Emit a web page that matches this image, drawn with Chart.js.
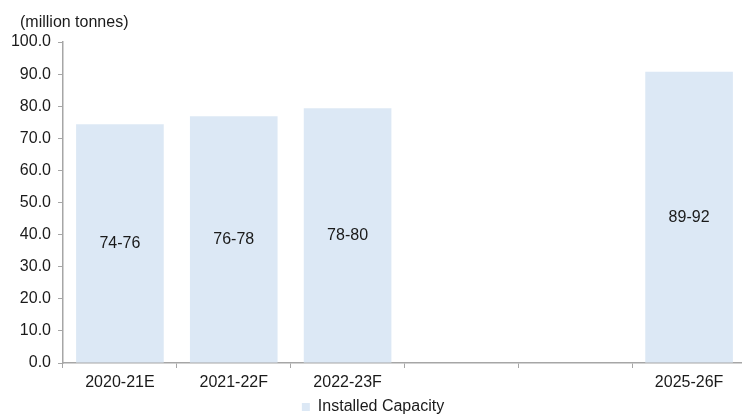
<!DOCTYPE html>
<html>
<head>
<meta charset="utf-8">
<script src="https://cdn.jsdelivr.net/npm/chart.js@4/dist/chart.umd.min.js"></script>
<style>
  html, body { margin: 0; padding: 0; background: #fff; overflow: hidden; }
  #wrap { width: 746px; height: 415px; }
</style>
</head>
<body>
<div id="wrap"><canvas id="chart" width="746" height="415"></canvas></div>
<script>
// Datos del gráfico
var categories = ['2020-21E', '2021-22F', '2022-23F', '', '', '2025-26F'];
var capacity = [74.4, 76.9, 79.4, null, null, 90.7];
var rangeLabels = ['74-76', '76-78', '78-80', '', '', '89-92'];
var unitLabel = '(million tonnes)';

var textColor = '#1a1a1a';
var axisColor = '#a6a6a6';
var fontFamily = 'Arial, "Liberation Sans", sans-serif';

// Etiquetas dentro de las barras + título de unidades
var barLabels = {
    id: 'barLabels',
    afterDatasetsDraw: function(chart) {
        var ctx = chart.ctx;
        var meta = chart.getDatasetMeta(0);
        ctx.save();
        ctx.font = '16px ' + fontFamily;
        ctx.fillStyle = textColor;
        ctx.textAlign = 'center';
        ctx.textBaseline = 'middle';
        meta.data.forEach(function(bar, i) {
            if (capacity[i] == null) return;
            var c = bar.getCenterPoint();
            ctx.fillText(rangeLabels[i], c.x, c.y);
        });
        ctx.textAlign = 'left';
        ctx.fillText(unitLabel, 20, 23);
        ctx.restore();
    }
};

var ctx = document.getElementById('chart').getContext('2d');
new Chart(ctx, {
    type: 'bar',
    data: {
        labels: categories,
        datasets: [{
            label: 'Installed Capacity',
            data: capacity,
            backgroundColor: '#dce8f5',
            borderWidth: 0,
            categoryPercentage: 0.77,
            barPercentage: 1.0
        }]
    },
    options: {
        responsive: false,
        animation: false,
        layout: { padding: { top: 42, left: 0, right: 0, bottom: 0 } },
        scales: {
            x: {
                grid: {
                    drawOnChartArea: false,
                    offset: true,
                    color: axisColor,
                    tickLength: 5
                },
                border: { color: axisColor, width: 1.5 },
                ticks: {
                    color: textColor,
                    font: { family: fontFamily, size: 16 },
                    padding: 5,
                    maxRotation: 0,
                    autoSkip: false
                },
                afterFit: function(scale) { scale.height = 36; }
            },
            y: {
                min: 0,
                max: 100,
                grid: {
                    drawOnChartArea: false,
                    color: axisColor,
                    tickLength: 5
                },
                border: { color: axisColor, width: 1.5 },
                ticks: {
                    stepSize: 10,
                    color: textColor,
                    font: { family: fontFamily, size: 16 },
                    padding: 7,
                    callback: function(v) { return v.toFixed(1); }
                },
                afterFit: function(scale) { scale.width = 63; }
            }
        },
        plugins: {
            legend: {
                position: 'bottom',
                maxHeight: 16,
                labels: {
                    color: textColor,
                    font: { family: fontFamily, size: 16 },
                    boxWidth: 8,
                    boxHeight: 8,
                    padding: 0
                }
            },
            tooltip: { enabled: false }
        }
    },
    plugins: [barLabels]
});
</script>
</body>
</html>
